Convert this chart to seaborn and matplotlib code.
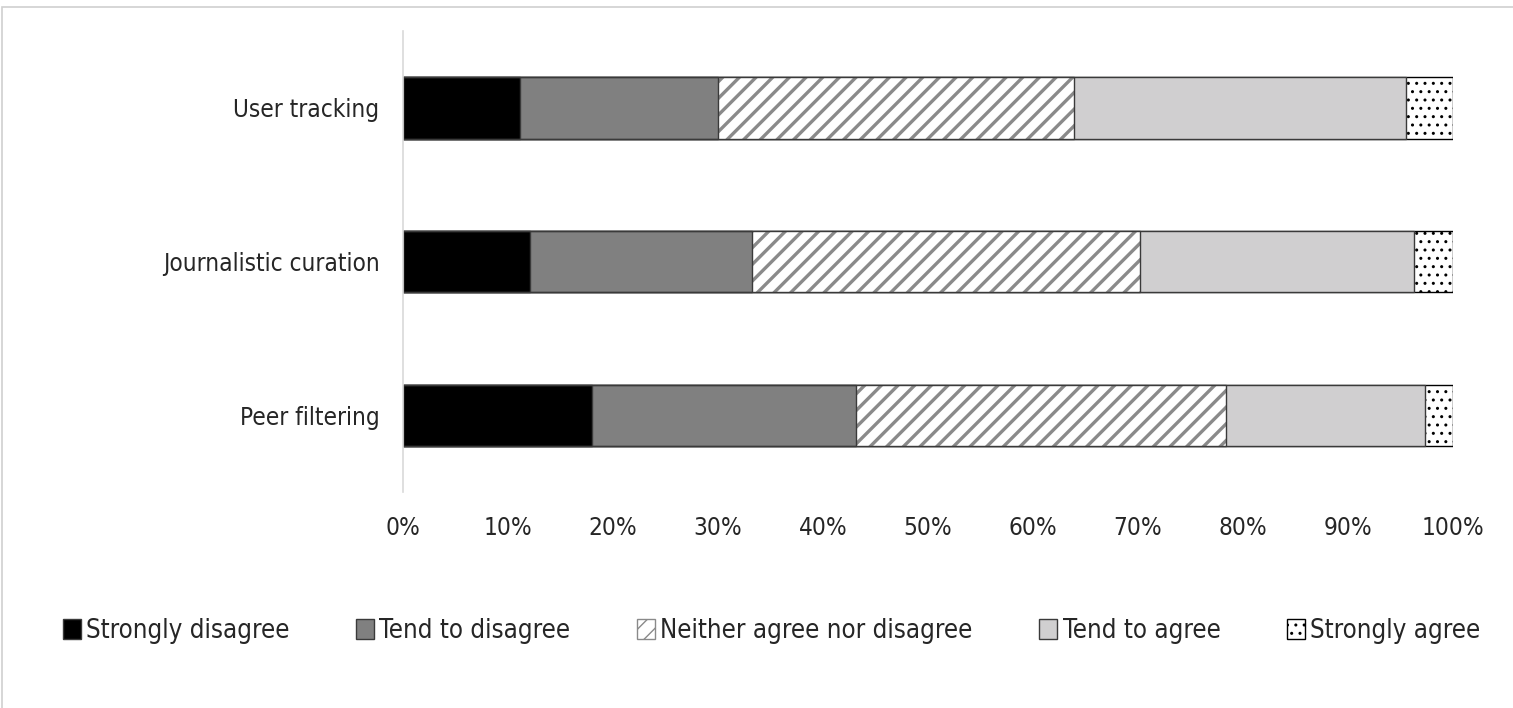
import pandas as pd
import matplotlib.pyplot as plt
import seaborn as sns
from matplotlib.patches import Patch, Rectangle
from matplotlib.ticker import PercentFormatter

# Survey shares (percent) per item
items = ['User tracking', 'Journalistic curation', 'Peer filtering']
strongly_disagree = [11.1, 12.1, 18.0]
tend_to_disagree = [18.9, 21.1, 25.1]
neither = [33.9, 37.0, 35.3]
tend_to_agree = [31.6, 26.1, 18.9]
strongly_agree = [4.5, 3.7, 2.7]

labels = ['Strongly disagree', 'Tend to disagree', 'Neither agree nor disagree',
          'Tend to agree', 'Strongly agree']


def main():
    df = pd.DataFrame({
        'item': items,
        labels[0]: strongly_disagree,
        labels[1]: tend_to_disagree,
        labels[2]: neither,
        labels[3]: tend_to_agree,
        labels[4]: strongly_agree,
    })
    # cumulative sums so the layers can be drawn back to front
    cum = df[labels].cumsum(axis=1)
    cum['item'] = df['item']

    sns.set_theme(style='white')
    plt.rcParams['font.family'] = ['DejaVu Sans']
    plt.rcParams['font.stretch'] = 'condensed'

    fig = plt.figure(figsize=(15.13, 7.08), dpi=100)
    ax = fig.add_axes([0.2664, 0.305, 0.6940, 0.651])

    edge = '#3a3a3a'
    styles = {
        labels[4]: dict(color='white', hatch='..', edgecolor='black', hlw=1.0),
        labels[3]: dict(color='#d0cfd0', hatch=None, edgecolor=edge, hlw=1.0),
        labels[2]: dict(color='white', hatch='//', edgecolor='#8a8a8a', hlw=2.4),
        labels[1]: dict(color='#808080', hatch=None, edgecolor=edge, hlw=1.0),
        labels[0]: dict(color='black', hatch=None, edgecolor=edge, hlw=1.0),
    }

    for lab in labels[::-1]:
        st = styles[lab]
        with plt.rc_context({'hatch.linewidth': st['hlw']}):
            sns.barplot(data=cum, x=lab, y='item', orient='h', color=st['color'],
                        saturation=1, width=0.4, hatch=st['hatch'],
                        edgecolor=st['edgecolor'],
                        linewidth=1.0 if st['hatch'] != '//' else 0, ax=ax)
    # crisp outline over the hatched segment
    sns.barplot(data=cum, x=labels[2], y='item', orient='h', fill=False,
                width=0.4, edgecolor=edge, linewidth=1.0, ax=ax)

    ax.set_xlim(0, 100)
    ax.set_ylim(2.5, -0.5)
    ax.set_xticks(range(0, 101, 10))
    ax.xaxis.set_major_formatter(PercentFormatter(decimals=0))
    ax.set_xlabel('')
    ax.set_ylabel('')
    ax.tick_params(axis='both', length=0, labelsize=17.5, colors='#262626')
    ax.tick_params(axis='x', pad=17)
    ax.tick_params(axis='y', pad=17)
    for s in ['top', 'right', 'bottom']:
        ax.spines[s].set_visible(False)
    ax.spines['left'].set_color('#d9d9d9')
    ax.spines['left'].set_linewidth(1.2)

    handles = []
    for lab in labels:
        st = styles[lab]
        handles.append(Patch(facecolor=st['color'], hatch=st['hatch'],
                             edgecolor=st['edgecolor'] if st['hatch'] else edge,
                             linewidth=1.0))
    fig.legend(handles, labels, loc='center', bbox_to_anchor=(0.51, 0.109),
               ncol=5, frameon=False, fontsize=18.5, handlelength=0.7,
               handleheight=0.8, handletextpad=0.2, columnspacing=2.6,
               labelcolor='#262626')

    # chart area border
    fig.patches.append(Rectangle((0.0015, -0.05), 1.2, 1.04, transform=fig.transFigure,
                                 fill=False, edgecolor='#d0d0d0', linewidth=1.2))

    plt.savefig('out.png', dpi=100)


if __name__ == '__main__':
    main()
